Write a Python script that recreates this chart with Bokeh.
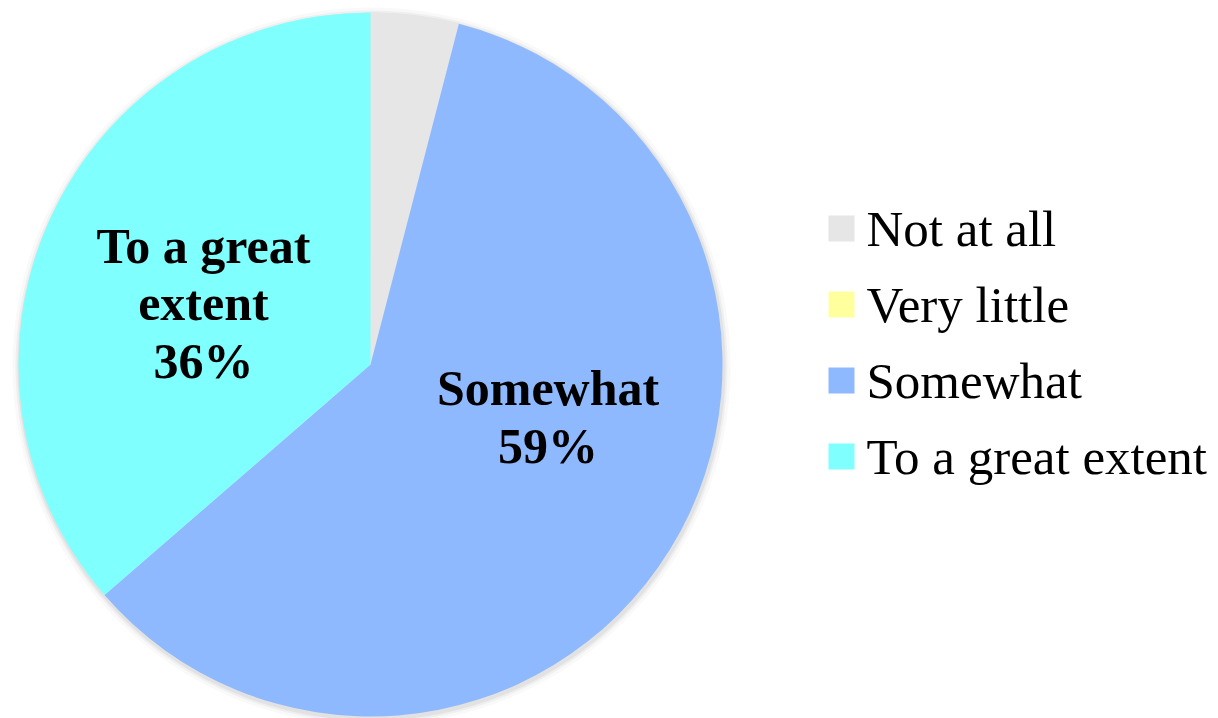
import math
from bokeh.plotting import figure
from bokeh.models import Range1d, ColumnDataSource
from bokeh.core.properties import value
from bokeh.embed import file_html
from bokeh.resources import INLINE

categories = ["Not at all", "Very little", "Somewhat", "To a great extent"]
percent = [4, 0, 59, 36]
colors = ["#E6E6E6", "#FFFF9E", "#8FB9FF", "#80FFFF"]
slice_labels = ["", "", "Somewhat\n59%", "To a great\nextent\n36%"]
# label placement style: radial factor and nudges (pixels)
label_rf = [0.5, 0.5, 0.5, 0.5]
label_dx = [0, 0, 28, -7]
label_dy = [0, 0, 40, -12]

W, H = 1218, 718
FONT = "Liberation Serif"

p = figure(width=W, height=H, x_range=Range1d(0, W), y_range=Range1d(0, H),
           output_backend="svg", toolbar_location=None, min_border=0)
p.axis.visible = False
p.grid.visible = False
p.outline_line_color = None
p.background_fill_color = "white"

cx, cy, r = 370, H - 364, 352

# soft shadow
for extra, a in [(7, 0.05), (4, 0.08), (2, 0.12)]:
    p.circle(x=[cx + 1], y=[cy - 2], radius=r + extra, fill_color="#808080",
             fill_alpha=a, line_color=None)

total = float(sum(percent))
starts, ends, xs, ys, fills, labs, lx, ly = [], [], [], [], [], [], [], []
cum = 0.0
for i, (cat, v, c, lab) in enumerate(zip(categories, percent, colors, slice_labels)):
    a0 = math.pi / 2 - 2 * math.pi * cum / total
    cum += v
    a1 = math.pi / 2 - 2 * math.pi * cum / total
    if v > 0:
        starts.append(a0); ends.append(a1); fills.append(c)
        xs.append(cx); ys.append(cy)
    if lab:
        mid = (a0 + a1) / 2
        rr = label_rf[i] * r
        labs.append(lab)
        lx.append(cx + rr * math.cos(mid) + label_dx[i])
        ly.append(cy + rr * math.sin(mid) + label_dy[i])

src = ColumnDataSource(dict(x=xs, y=ys, start=starts, end=ends, color=fills))
p.wedge(x="x", y="y", radius=r, start_angle="start", end_angle="end",
        direction="clock", fill_color="color", line_color=None, source=src)

p.text(x=lx, y=ly, text=labs, text_align="center", text_baseline="middle",
       text_font=value(FONT), text_font_style="bold", text_font_size="50px",
       text_line_height=1.03, text_color="black")

# legend
lg_x, lg_y0, lg_dy = 841, H - 228, 76
leg_y = [lg_y0 - i * lg_dy for i in range(len(categories))]
p.rect(x=[lg_x] * len(categories), y=leg_y, width=26, height=26,
       fill_color=colors, line_color=None)
p.text(x=[lg_x + 25] * len(categories), y=leg_y, text=categories,
       text_align="left", text_baseline="middle", text_font=value(FONT),
       text_font_size="51px", text_color="black")

open("out.html", "w").write(file_html(p, INLINE))
